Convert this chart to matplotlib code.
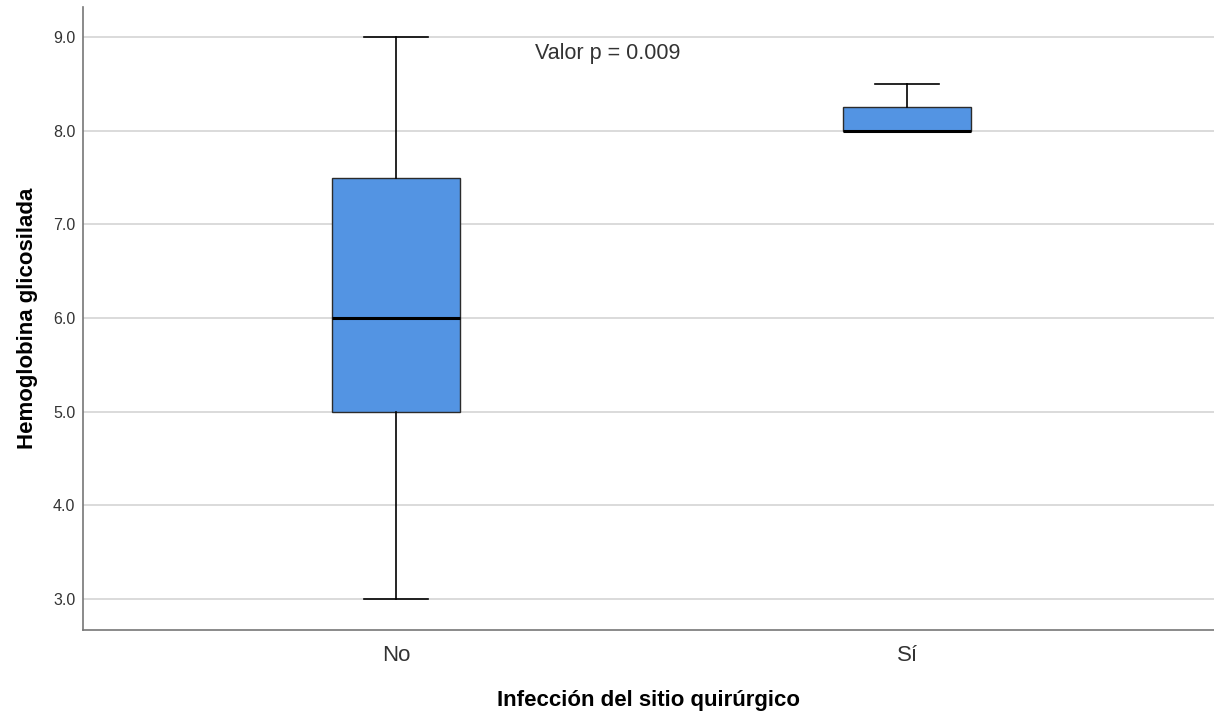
import matplotlib
matplotlib.use("Agg")
import matplotlib.pyplot as plt

plt.rcParams['font.family'] = ['Liberation Sans', 'DejaVu Sans']

categories = ["No", "Sí"]
whislo = [3.0, 8.0]
q1 = [5.0, 8.0]
med = [6.0, 8.0]
q3 = [7.5, 8.25]
whishi = [9.0, 8.5]
yticks = [3.0, 4.0, 5.0, 6.0, 7.0, 8.0, 9.0]

fig = plt.figure(figsize=(12.14, 7.17), dpi=100)
ax = fig.add_axes([0.0684, 0.1213, 0.9316, 0.8689])

stats = [dict(label=c, whislo=a, q1=b, med=m, q3=d, whishi=e, fliers=[])
         for c, a, b, m, d, e in zip(categories, whislo, q1, med, q3, whishi)]

ax.set_axisbelow(True)
ax.yaxis.grid(True, color='#d4d4d4', linewidth=1.2)
ax.bxp(stats, positions=[1, 2], widths=0.25, patch_artist=True, showfliers=False,
       boxprops=dict(facecolor='#5394e3', edgecolor='#2b2b2b', linewidth=1.0),
       medianprops=dict(color='black', linewidth=2.2),
       whiskerprops=dict(color='black', linewidth=1.2),
       capprops=dict(color='black', linewidth=1.2),
       capwidths=0.125)

ax.set_xlim(0.3875, 2.60)
ax.set_ylim(2.669, 9.32)
ax.set_yticks(yticks)
ax.set_yticklabels([f"{v:.1f}" for v in yticks], fontsize=11.5, color='#333333')
ax.set_xticks([1, 2])
ax.set_xticklabels(categories, fontsize=16, color='#333333')
ax.tick_params(axis='y', length=0, pad=5.5)
ax.tick_params(axis='x', length=0, pad=11)

for s in ['top', 'right']:
    ax.spines[s].set_visible(False)
for s in ['left', 'bottom']:
    ax.spines[s].set_color('#777777')
    ax.spines[s].set_linewidth(1.2)

ax.set_ylabel("Hemoglobina glicosilada", fontsize=16, fontweight='bold', labelpad=11)
ax.set_xlabel("Infección del sitio quirúrgico", fontsize=16, fontweight='bold', labelpad=17)

ax.text(1.272, 8.765, "Valor p = 0.009", fontsize=15.5, color='#333333', ha='left', va='baseline')

fig.savefig("out.png", dpi=100)
